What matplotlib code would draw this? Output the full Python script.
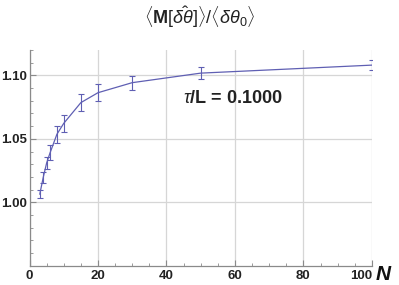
import numpy as np
import matplotlib
matplotlib.use("Agg")
import matplotlib.pyplot as plt
from matplotlib.ticker import MultipleLocator

plt.rcParams['font.family'] = ['Liberation Sans', 'DejaVu Sans']
plt.rcParams['mathtext.fontset'] = 'custom'
plt.rcParams['mathtext.rm'] = 'Liberation Sans'
plt.rcParams['mathtext.it'] = 'Liberation Sans:italic'
plt.rcParams['mathtext.bf'] = 'Liberation Sans:bold'

# data
n_vals = [3, 4, 5, 6, 8, 10, 15, 20, 30, 50, 100]
ratio = [1.0065, 1.0196, 1.031, 1.039, 1.0536, 1.0622, 1.0785, 1.0863, 1.0942, 1.1017, 1.108]
err = [0.003, 0.004, 0.005, 0.006, 0.0065, 0.0065, 0.0068, 0.0065, 0.0055, 0.005, 0.004]
xticks = [0, 20, 40, 60, 80, 100]
yticks = [1.00, 1.05, 1.10]

line_col = '#5F5FB3'
grid_col = '#d6d6d6'
axis_col = '#8a8a8a'

fig = plt.figure(figsize=(3.99, 2.85), dpi=100)
ax = fig.add_axes([0.074, 0.067, 0.858, 0.758])

ax.plot(n_vals, ratio, color=line_col, lw=0.9)
ax.errorbar(n_vals, ratio, yerr=err, fmt='none', ecolor=line_col, elinewidth=0.8,
            capsize=2, capthick=0.8)

ax.set_xlim(0, 100)
ax.set_ylim(0.95, 1.12)
ax.set_xticks(xticks)
ax.set_yticks(yticks)
ax.set_yticklabels(['%.2f' % v for v in yticks])
ax.xaxis.set_minor_locator(MultipleLocator(5))
ax.yaxis.set_minor_locator(MultipleLocator(0.01))
ax.grid(True, which='major', color=grid_col, lw=0.9)

for s in ['top', 'right']:
    ax.spines[s].set_visible(False)
for s in ['left', 'bottom']:
    ax.spines[s].set_color(axis_col)
    ax.spines[s].set_linewidth(0.9)

ax.tick_params(which='both', direction='in', color=axis_col, labelsize=9.5)
ax.tick_params(axis='y', pad=2)
ax.tick_params(axis='x', pad=3)
ax.tick_params(which='major', length=4)
ax.tick_params(which='minor', length=2)
for lab in ax.get_xticklabels() + ax.get_yticklabels():
    lab.set_fontweight('bold')
    lab.set_color('#222222')
ax.get_xticklabels()[-1].set_horizontalalignment('right')

ax.text(1.01, -0.04, 'N', transform=ax.transAxes, fontsize=15, fontweight='bold',
        fontstyle='italic', ha='left', va='center', color='#111111')

ax.text(0.594, 0.773, r'$\tau$/L = 0.1000', transform=ax.transAxes, fontsize=13,
        fontweight='bold', ha='center', va='center', color='#222222')

fig.text(0.5, 0.94,
         r'$\langle\mathbf{M}[\hat{\delta\theta}]\rangle/\langle\delta\theta_0\rangle$',
         fontsize=13, ha='center', va='center', color='#222222')

fig.savefig('out.png', dpi=100)
